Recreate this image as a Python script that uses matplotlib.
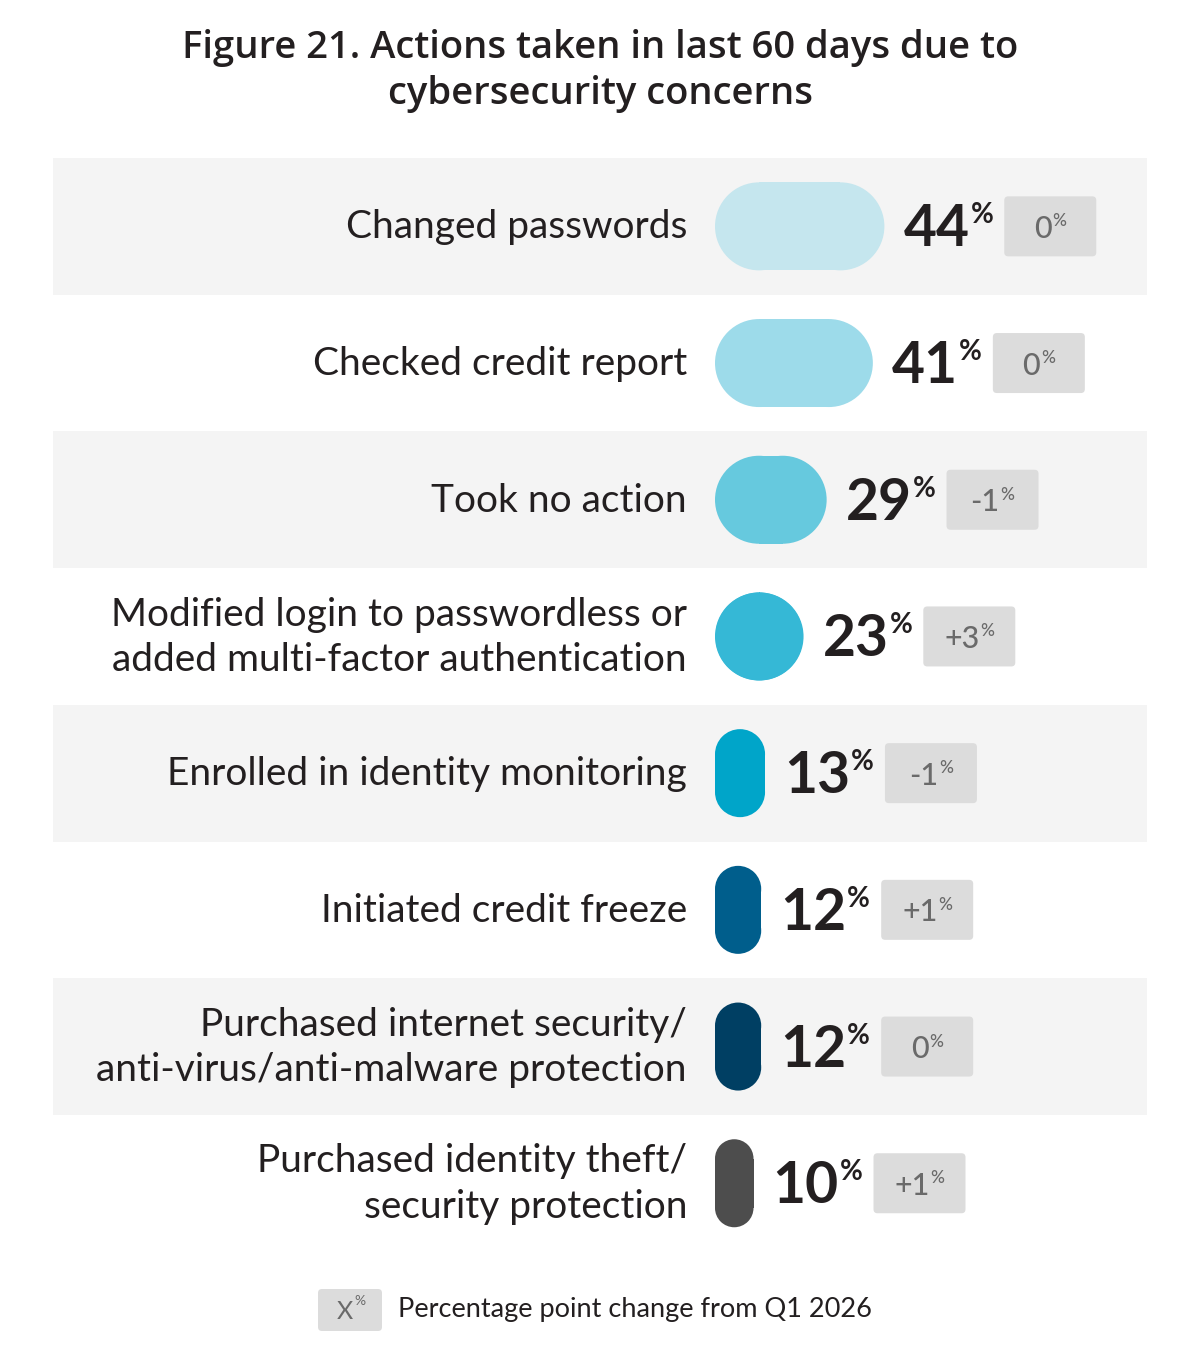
import matplotlib
matplotlib.use('Agg')
import matplotlib.pyplot as plt
from matplotlib.patches import FancyBboxPatch, Rectangle, Circle

plt.rcParams['font.family'] = ['Lato', 'DejaVu Sans']

# data
labels = [
    'Changed passwords',
    'Checked credit report',
    'Took no action',
    'Modified login to passwordless or\nadded multi-factor authentication',
    'Enrolled in identity monitoring',
    'Initiated credit freeze',
    'Purchased internet security/\nanti-virus/anti-malware protection',
    'Purchased identity theft/\nsecurity protection',
]
values = [44, 41, 29, 23, 13, 12, 12, 10]
changes = ['0', '0', '-1', '+3', '-1', '+1', '0', '+1']
bar_colors = ['#c5e6ee', '#9ddbea', '#66c9de', '#35b8d6', '#00a5c9',
              '#005e8c', '#003f63', '#4d4d4d']

title_lines = ['Figure 21. Actions taken in last 60 days due to',
               'cybersecurity concerns']
legend_text = 'Percentage point change from Q1 2026'

W, H = 1200, 1371
fig = plt.figure(figsize=(W / 100, H / 100), dpi=100)
ax = fig.add_axes([0, 0, 1, 1])
ax.set_xlim(0, W)
ax.set_ylim(H, 0)
ax.axis('off')

txt_dark = '#231f20'
badge_bg = '#dcdcdc'
badge_txt = '#6a6a6a'

for k, line in enumerate(title_lines):
    ax.text(600, 48 + 46 * k, line, ha='center', va='center', fontsize=27.5,
            fontweight='semibold', color=txt_dark, family=['Open Sans', 'DejaVu Sans'])

row_top = 158
row_h = 136.7
x0 = 715          # bar start
scale = 3.85      # px per percent
bar_h = 88

renderer = fig.canvas.get_renderer()
inv = ax.transData.inverted()


def xext(t):
    bb = t.get_window_extent(renderer=renderer)
    return inv.transform((bb.x0, bb.y0))[0], inv.transform((bb.x1, bb.y0))[0]


def capsule(x, y, w, h, color):
    # pill shape: round ends on the short side
    if w >= h:
        r = h / 2
        ax.add_patch(Rectangle((x + r, y), w - 2 * r, h, facecolor=color, edgecolor='none', zorder=2))
        ax.add_patch(Circle((x + r, y + r), r, facecolor=color, edgecolor='none', zorder=2))
        ax.add_patch(Circle((x + w - r, y + r), r, facecolor=color, edgecolor='none', zorder=2))
    else:
        r = w / 2
        ax.add_patch(Rectangle((x, y + r), w, h - 2 * r, facecolor=color, edgecolor='none', zorder=2))
        ax.add_patch(Circle((x + r, y + r), r, facecolor=color, edgecolor='none', zorder=2))
        ax.add_patch(Circle((x + r, y + h - r), r, facecolor=color, edgecolor='none', zorder=2))


for i, (lab, v, ch, col) in enumerate(zip(labels, values, changes, bar_colors)):
    yc = row_top + row_h * (i + 0.5)
    if i % 2 == 0:
        ax.add_patch(Rectangle((53, row_top + row_h * i), 1094, row_h,
                               facecolor='#f4f4f4', edgecolor='none', zorder=0))
    ax.text(687, yc + 1, lab, ha='right', va='center', fontsize=28, color=txt_dark,
            linespacing=1.33)

    w = v * scale
    capsule(x0, yc - bar_h / 2, w, bar_h, col)

    t = ax.text(x0 + w + 19, yc + 20, str(v), ha='left', va='baseline',
                fontsize=41, fontweight='bold', color=txt_dark)
    p = ax.text(xext(t)[1] + 1, yc - 3, '%', ha='left', va='baseline', fontsize=20,
                fontweight='bold', color=txt_dark)

    bx = xext(p)[1] + 11
    bw, bh = 92, 60
    ax.add_patch(FancyBboxPatch((bx, yc - bh / 2), bw, bh,
                                boxstyle='round,pad=0,rounding_size=4',
                                facecolor=badge_bg, edgecolor='none', zorder=2))
    ct = ax.text(bx, yc + 11.5, ch, ha='left', va='baseline',
                 fontsize=22, color=badge_txt, fontweight='medium')
    c0, c1 = xext(ct)
    cp = ax.text(c1 + 1, yc, '%', ha='left', va='baseline', fontsize=12.5,
                 color=badge_txt, fontweight='medium')
    p1 = xext(cp)[1]
    shift = bx + bw / 2 - (c0 + p1) / 2
    ct.set_x(bx + shift)
    cp.set_x(c1 + 1 + shift)

# legend
ax.add_patch(FancyBboxPatch((318, 1289), 64, 42,
                            boxstyle='round,pad=0,rounding_size=4',
                            facecolor=badge_bg, edgecolor='none'))
lx = ax.text(345, 1319, 'X', ha='center', va='baseline', fontsize=18, color=badge_txt)
ax.text(xext(lx)[1] + 1, 1305, '%', ha='left', va='baseline', fontsize=10,
        color=badge_txt)
ax.text(398, 1310, legend_text, ha='left', va='center', fontsize=19.5, color=txt_dark)

fig.savefig('out.png', dpi=100, facecolor='white')
